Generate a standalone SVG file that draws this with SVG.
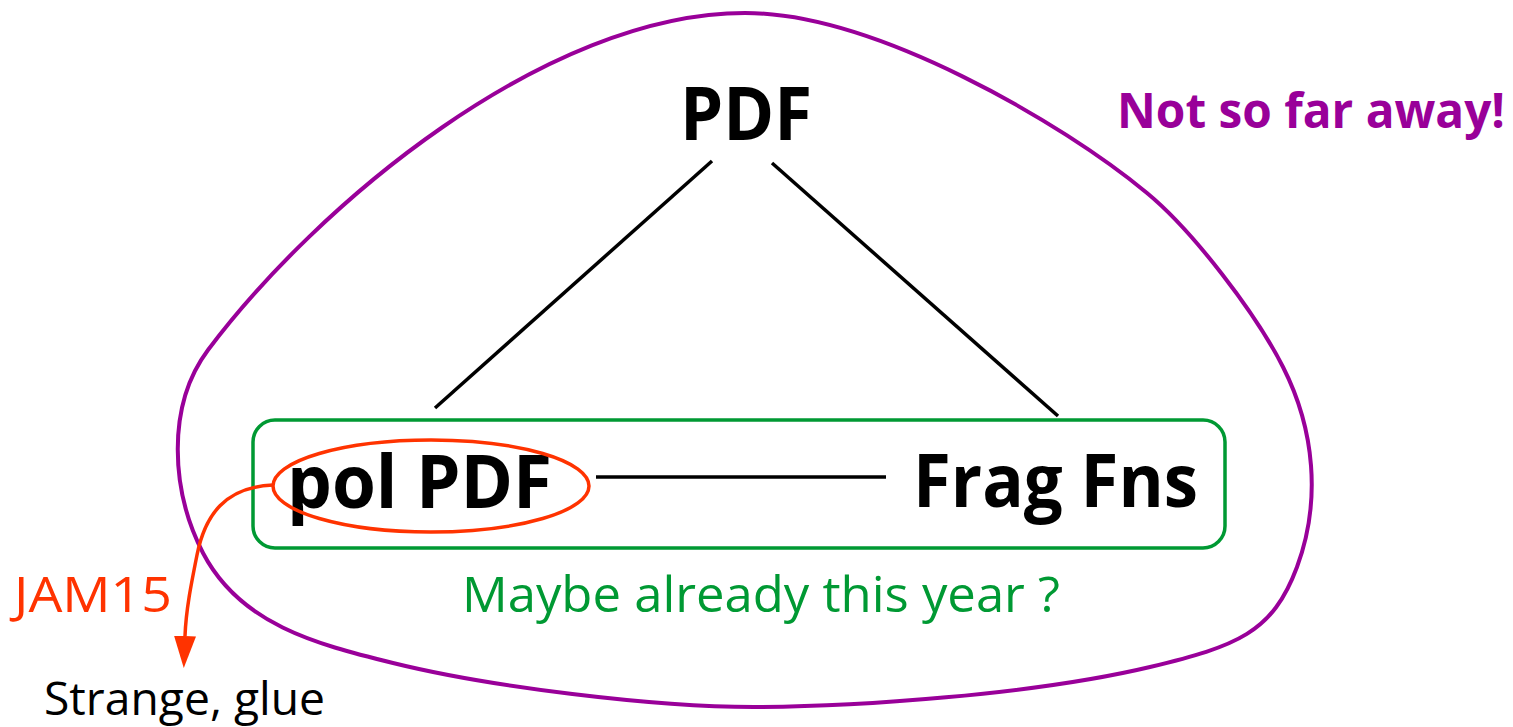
<svg xmlns="http://www.w3.org/2000/svg" width="1513" height="727" viewBox="0 0 1513 727">
  <style>
    text { font-family: "Open Sans", "Noto Sans", "Liberation Sans", sans-serif; }
    .big { font-size: 73px; font-weight: 700; fill: #000; }
    .edge { stroke: #000; stroke-width: 3.5; fill: none; }
  </style>
  <defs>
    <marker id="arrow" viewBox="0 0 32 22" refX="0" refY="11" markerWidth="32" markerHeight="22" markerUnits="userSpaceOnUse" orient="auto">
      <path d="M0,0 L32,11 L0,22 Z" fill="#ff3300"/>
    </marker>
  </defs>

  <!-- outer region -->
  <g id="region-outer">
    <path d="M745,13 C545,13 316,206 208,350 C166,406 171,491 203,553 C240,624 315,644 393,663 C490,687 654,707 754,707 C854,707 1034,694.6 1150,667 C1237,646 1272.5,633 1297,567 C1321.5,501 1314.5,429 1283,367 C1256,313.6 1193,231 1147,193 C1062,122.6 875,13 745,13 Z" fill="none" stroke="#990099" stroke-width="4"/>
    <text x="1117" y="128" font-size="48" font-weight="700" fill="#990099" textLength="388" lengthAdjust="spacingAndGlyphs">Not so far away!</text>
  </g>

  <!-- lower group box -->
  <g id="region-lower">
    <rect x="253" y="420" width="972" height="128" rx="22" fill="none" stroke="#009933" stroke-width="3.5"/>
    <text x="462" y="612" font-size="49" fill="#009933" textLength="598" lengthAdjust="spacingAndGlyphs">Maybe already this year ?</text>
  </g>

  <g id="node-pdf">
    <text class="big" x="680" y="140" textLength="132" lengthAdjust="spacingAndGlyphs">PDF</text>
  </g>

  <g id="node-polpdf">
    <text class="big" x="287" y="508" textLength="265" lengthAdjust="spacingAndGlyphs">pol PDF</text>
    <ellipse cx="431" cy="486" rx="158" ry="46" fill="none" stroke="#ff3300" stroke-width="3.5"/>
  </g>

  <g id="node-fragfns">
    <text class="big" x="913" y="507" textLength="285" lengthAdjust="spacingAndGlyphs">Frag Fns</text>
  </g>

  <g id="node-strange">
    <text x="44" y="715" font-size="45" fill="#000" textLength="281" lengthAdjust="spacingAndGlyphs">Strange, glue</text>
  </g>

  <g id="connectors">
    <line class="edge" x1="712" y1="161" x2="435" y2="408"/>
    <line class="edge" x1="772" y1="163" x2="1058" y2="416"/>
    <line class="edge" x1="596" y1="477" x2="886" y2="477"/>
    <path d="M273,485 C225,487 205,515 197,555 C191,585 186,610 185,636" fill="none" stroke="#ff3300" stroke-width="3.5" marker-end="url(#arrow)"/>
    <text x="14" y="612" font-size="49" fill="#ff3300" textLength="158" lengthAdjust="spacingAndGlyphs">JAM15</text>
  </g>
</svg>
